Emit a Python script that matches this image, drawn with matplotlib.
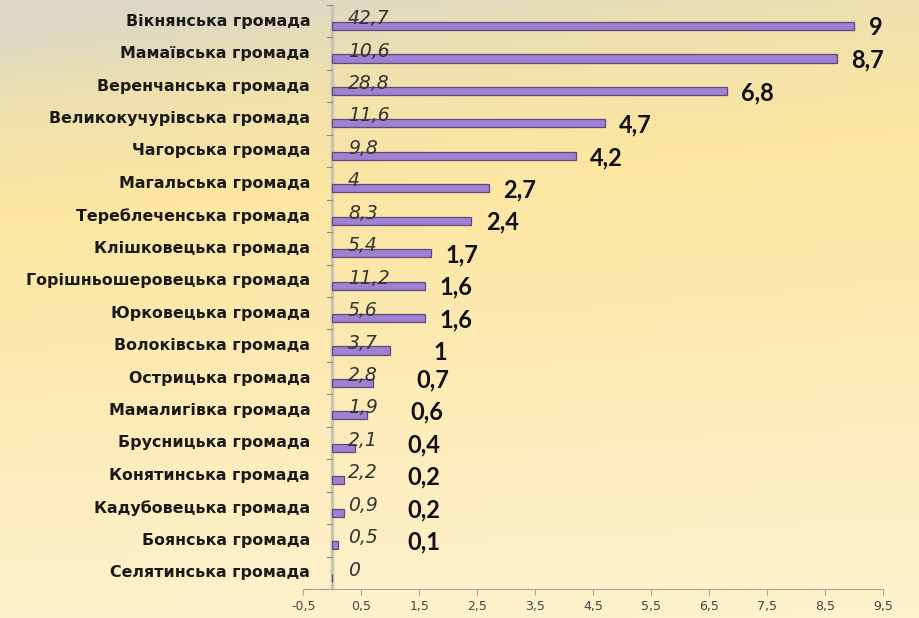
import matplotlib
matplotlib.use("Agg")
import matplotlib.pyplot as plt
import numpy as np
from matplotlib.colors import LinearSegmentedColormap

# Дані
громади = [
    "Вікнянська громада", "Мамаївська громада", "Веренчанська громада",
    "Великокучурівська громада", "Чагорська громада", "Магальська громада",
    "Тереблеченська громада", "Клішковецька громада", "Горішньошеровецька громада",
    "Юрковецька громада", "Волоківська громада", "Острицька громада",
    "Мамалигівка громада", "Брусницька громада", "Конятинська громада",
    "Кадубовецька громада", "Боянська громада", "Селятинська громада",
]
значення = [9, 8.7, 6.8, 4.7, 4.2, 2.7, 2.4, 1.7, 1.6, 1.6, 1, 0.7, 0.6, 0.4, 0.2, 0.2, 0.1, 0]
другий_ряд = ["42,7", "10,6", "28,8", "11,6", "9,8", "4", "8,3", "5,4", "11,2",
              "5,6", "3,7", "2,8", "1,9", "2,1", "2,2", "0,9", "0,5", "0"]
тики = [-0.5, 0.5, 1.5, 2.5, 3.5, 4.5, 5.5, 6.5, 7.5, 8.5, 9.5]

PURPLE = "#a080d0"; EDGE = "#5f4880"; AXIS = "#a8a59a"

def fmt(v):
    return f"{v:g}".replace(".", ",")

fig = plt.figure(figsize=(9.19, 6.18), dpi=100)

# фон: сіро-бежевий зверху, жовтий посередині, кремовий знизу
bg = fig.add_axes([0, 0, 1, 1], zorder=0)
yy, xx = np.mgrid[0:1:200j, 0:1:300j]
t = np.clip(yy + 0.12 * xx * (1 - yy) - 0.05 * (1 - xx), 0, 1)
cmap = LinearSegmentedColormap.from_list(
    "bg", [(0, "#dcd8c4"), (0.12, "#efe0ae"), (0.3, "#fce6a2"), (0.6, "#fdeab4"), (1, "#fef2cf")])
bg.imshow(t, cmap=cmap, aspect="auto", extent=[0, 1, 0, 1], origin="upper", vmin=0, vmax=1)
bg.axis("off")

ax = fig.add_axes([0.33, 0.047, 0.631, 0.945], zorder=1)
ax.patch.set_alpha(0)
y = np.arange(len(громади))
# стовпчик зсунутий вниз у межах категорії (другий ряд займає верхню половину)
ax.barh(y + 0.15, значення, height=0.25, color=PURPLE, edgecolor=EDGE, linewidth=0.9, zorder=3)
ax.set_xlim(-0.5, 9.5)
ax.set_ylim(len(громади) - 0.5, -0.5)

ax.axvline(0, color="#c9c5b4", lw=2.5, zorder=2)
for b in np.arange(len(громади) + 1) - 0.5:
    ax.plot([-0.09, 0], [b, b], color="#8e8b80", lw=0.8, zorder=2, clip_on=False)

for i, (name, v, s) in enumerate(zip(громади, значення, другий_ряд)):
    ax.text(-0.38, i, name, ha="right", va="center", fontsize=11.4, fontweight="bold",
            family="DejaVu Sans", color="#1a1a1a")
    ax.text(0.27, i - 0.08, s, ha="left", va="center", fontsize=13.5, fontstyle="italic",
            family="DejaVu Sans", color="#333333", zorder=4)
    if v > 0:
        lx = v + 0.25 if v >= 1.5 else max(v + 0.75, 1.3)
        dy = 0.2 if v >= 1 else 0.05
        ax.text(lx, i + dy, fmt(v), ha="left", va="center", fontsize=17,
                fontweight="bold", family="Lato", color="#111111", zorder=4)

ax.set_yticks([])
ax.set_xticks(тики, [fmt(t) for t in тики])
ax.tick_params(axis="x", length=4, color=AXIS, labelsize=9, labelcolor="#444444", pad=4)
for side in ["top", "right", "left"]:
    ax.spines[side].set_visible(False)
ax.spines["bottom"].set_color(AXIS)

fig.savefig("out.png", dpi=100)
